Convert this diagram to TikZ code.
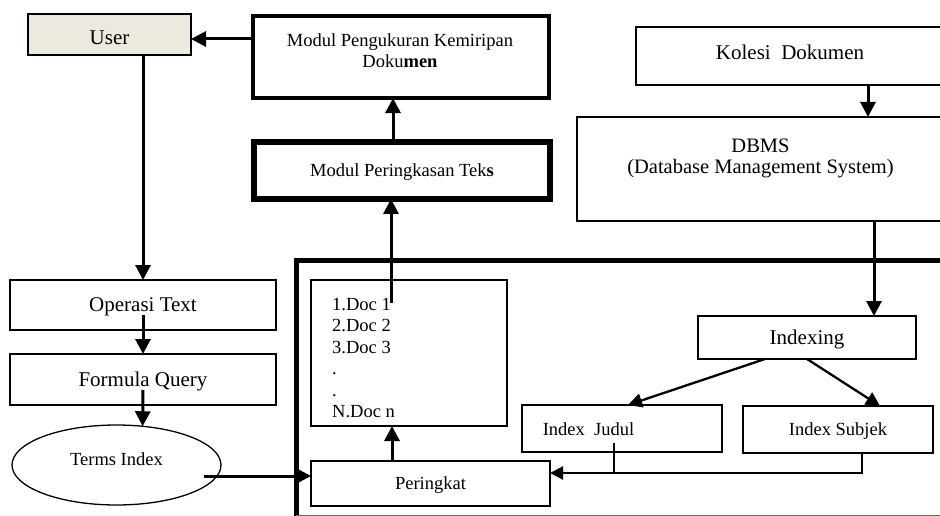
\documentclass[tikz,border=0pt]{standalone}
\usepackage{fontspec}
\setmainfont{Liberation Serif}
\usetikzlibrary{arrows.meta,shapes.geometric,calc}
\definecolor{userfill}{RGB}{236,233,223}
\begin{document}
\begin{tikzpicture}[x=1pt,y=-1pt,
  box/.style={draw, line width=1.3pt, inner sep=0pt, outer sep=0pt},
  bigf/.style={font=\fontsize{21}{24}\selectfont, text height=13.9pt, text depth=0pt, inner sep=0pt},
  smallf/.style={font=\fontsize{18.5}{21}\selectfont, text height=12.2pt, text depth=0pt, inner sep=0pt},
  arr/.style={line width=3pt, -{Triangle[length=15pt,width=15pt]}},
  arrmid/.style={line width=2.3pt, -{Triangle[length=14pt,width=14pt]}},
  arrlink/.style={line width=2pt, -{Triangle[length=13pt,width=13pt]}},
  link/.style={line width=2pt},
  frame/.style={line width=5pt, line join=miter}]
\path[use as bounding box, clip] (0,0) rectangle (940,516);

% big frame
\draw[frame] (950,260) -- (296,260) -- (296,525);
\draw[line width=1pt, black!60] (296,515) -- (950,515);

% boxes
\node[box, fill=userfill, minimum width=163pt, minimum height=41pt] (user) at (109.5,34.5) {};
\node[bigf] (tuser) at (109.5,38) {User};

\node[box, line width=4pt, minimum width=296.5pt, minimum height=82.3pt] (peng) at (400.8,56.9) {};
\node[font=\fontsize{18.5}{21}\selectfont, align=center, inner sep=0pt] (tpeng) at (400,50.8) {Modul Pengukuran Kemiripan\\Doku\textbf{men}};

\node[box, line width=6pt, smallf, minimum width=296pt, minimum height=57.3pt] (per) at (402,170.3) {Modul Peringkasan Tek\textbf{s}};

\node[box, minimum width=308pt, minimum height=58pt] (kolesi) at (790,56) {};
\node[bigf] (tkolesi) at (790,52.5) {Kolesi\ \ Dokumen};

\node[box, minimum width=366pt, minimum height=104pt] (dbms) at (760,169) {};
\node[font=\fontsize{20.5}{21}\selectfont, align=center, inner sep=0pt] (tdbms) at (760.5,158.5) {DBMS\\(Database Management System)};

\node[box, bigf, minimum width=266pt, minimum height=50pt] (optext) at (143,305) {Operasi Text};
\node[box, bigf, minimum width=266pt, minimum height=51pt] (formula) at (143,379.5) {Formula Query};

\node[box, ellipse, minimum width=209pt, minimum height=80pt] (terms) at (116.5,465) {};
\node[smallf] (tterms) at (116.5,459.5) {Terms Index};

\node[box, minimum width=196pt, minimum height=146pt] (docs) at (409,353) {};
\node[font=\fontsize{18.5}{21.5}\selectfont, align=left, inner sep=0pt, anchor=north west] (tdocs) at (332,298) {1.Doc 1\\2.Doc 2\\3.Doc 3\\.\\.\\N.Doc n};

\node[box, smallf, minimum width=239pt, minimum height=45pt] (peringkat) at (430.5,483.5) {Peringkat};

\node[box, bigf, minimum width=218pt, minimum height=43pt] (indexing) at (807,337.5) {Indexing};

\node[box, minimum width=200pt, minimum height=47pt] (judul) at (622,428.5) {};
\node[smallf] (tjudul) at (588.5,429) {Index\ \ Judul};

\node[box, smallf, minimum width=190pt, minimum height=47pt] (subjek) at (838,429.5) {Index Subjek};

% connector start points inside nodes
\path (terms.center) ++(87.5,11) coordinate (s8);
\path (docs.center) ++(-18,-50) coordinate (s9);
\path (judul.center) ++(-8,14.5) coordinate (s13);
\coordinate (bus) at ([yshift=10.5pt]peringkat.east);

% connectors
\draw[arr] ([yshift=17.9pt]peng.west) -- ([yshift=-4.5pt]user.east);
\draw[arr] ([xshift=-9pt]per.north) -- ([xshift=-7.8pt]peng.south);
\draw[arr] ([xshift=78pt]kolesi.south) -- ([xshift=108pt]dbms.north);
\draw[arr] ([xshift=114pt]dbms.south) -- ([xshift=67pt]indexing.north);
\draw[arr] ([xshift=33.5pt]user.south) -- (optext.north);
\draw[arr] ([yshift=-10pt]optext.center) -- (formula.north);
\draw[arr] ([yshift=-10.5pt]formula.center) -- (terms.56);
\draw[arr] (s8) -- (peringkat.west |- s8);
\draw[arr] (s9) -- (per.south -| s9);
\draw[arr] ([xshift=-38.5pt]peringkat.north) -- ([xshift=-17pt]docs.south);
\draw[arrmid] ([xshift=-42pt]indexing.south) -- ([xshift=6pt]judul.north);
\draw[arrmid] (indexing.south) -- ([xshift=42pt]subjek.north);
\draw[arrlink] ([xshift=24pt]subjek.south) |- (bus);
\draw[link] (s13) -- (s13 |- bus);
\end{tikzpicture}
\end{document}
